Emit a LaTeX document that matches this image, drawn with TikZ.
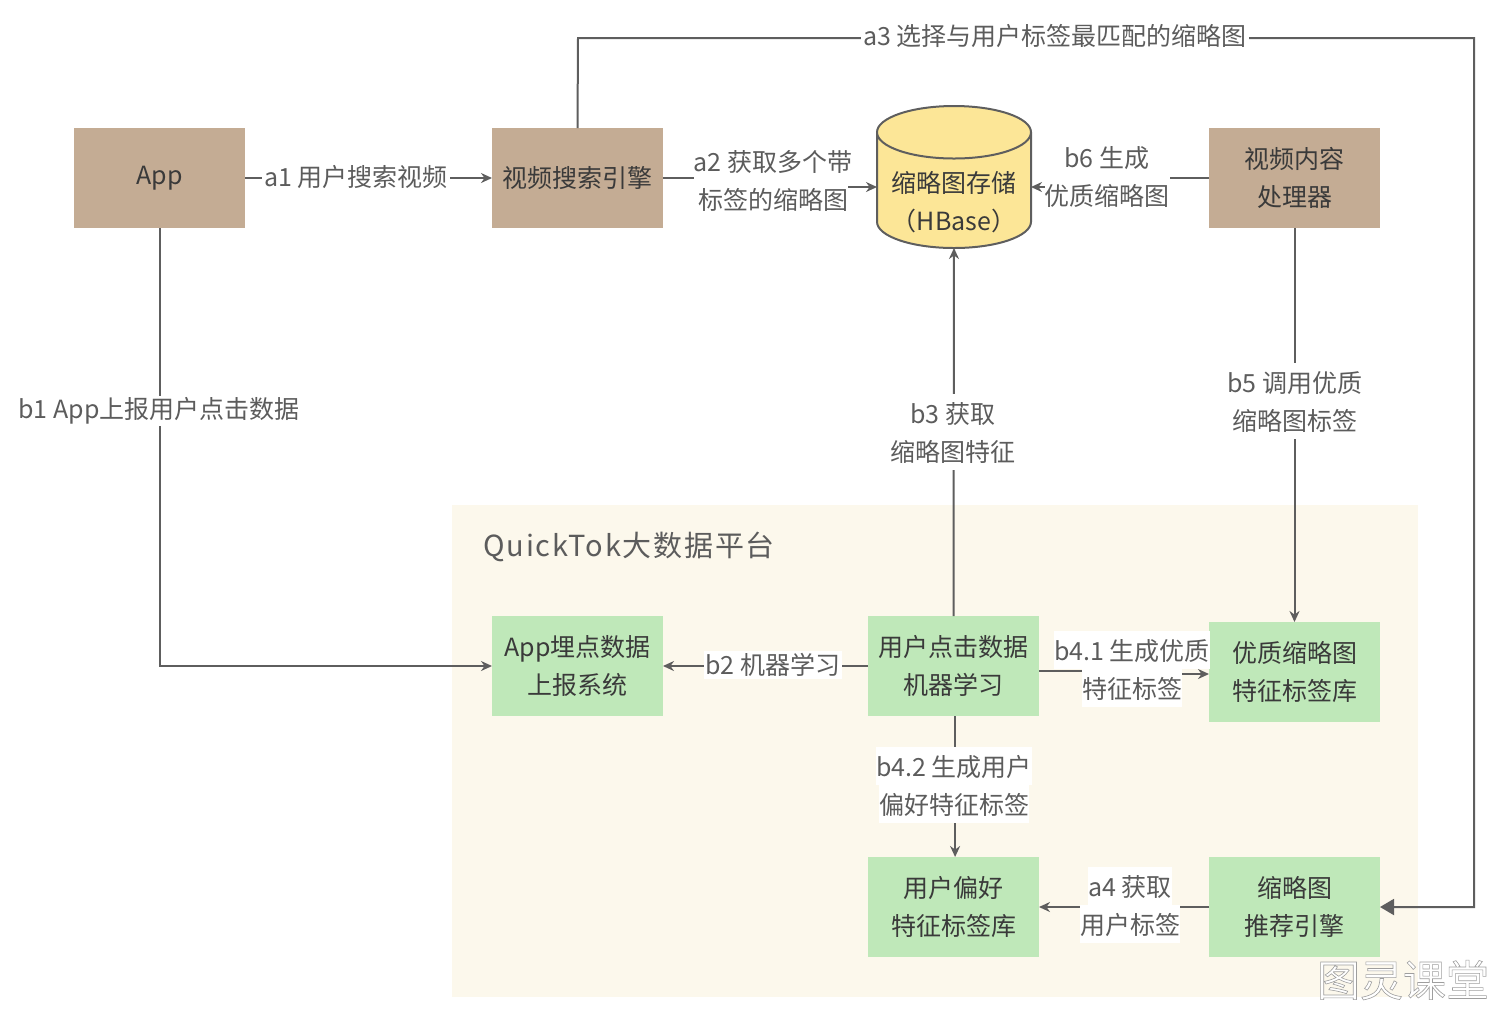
\documentclass[tikz,border=0pt]{standalone}
\usepackage{fontspec}
\setmainfont{Noto Sans CJK SC}
\usepackage{xcolor}
\usetikzlibrary{arrows.meta,positioning,shapes.geometric}
\definecolor{marrom}{HTML}{C4AC94}
\definecolor{verde}{HTML}{BFE8B9}
\definecolor{creme}{HTML}{FCF8EC}
\definecolor{amarelo}{HTML}{FCE697}
\definecolor{linha}{HTML}{5E5E5E}
\definecolor{texto}{HTML}{3A3A3A}
\definecolor{rotulo}{HTML}{5C5C5C}
\newcommand{\faixa}[1]{\setlength{\fboxsep}{0pt}\colorbox{white}{\rule[-4.5pt]{0pt}{19pt}#1}}

\begin{document}
\begin{tikzpicture}[
    x=0.5pt, y=-0.5pt,
    caixa/.style={minimum width=85.5pt, minimum height=50pt, inner sep=0pt, outer sep=0pt, align=center, text=texto, font=\fontsize{12.5}{19}\selectfont},
    apoio/.style={caixa, fill=marrom},
    dados/.style={caixa, fill=verde},
    banco/.style={draw=linha, line width=1pt, cylinder, shape border rotate=90, aspect=0.42, cylinder uses custom fill, cylinder body fill=amarelo, cylinder end fill=amarelo, minimum width=77pt, minimum height=71pt, inner sep=0pt, outer sep=0pt, align=center, font=\fontsize{12.5}{19}\selectfont},
    seta/.style={-{Stealth[length=5.5pt, width=5pt]}, line width=1pt, linha},
    setag/.style={-{Triangle[length=7pt, width=8pt]}, line width=1pt, linha},
    legenda/.style={fill=white, inner sep=1pt, align=center, text=rotulo, font=\fontsize{12.5}{19}\selectfont},
    legendas/.style={inner sep=0pt, align=center, text=rotulo, font=\fontsize{12.5}{19}\selectfont}
  ]
    \useasboundingbox (0,0) rectangle (1495,1009);
    \node[fill=creme, minimum width=483pt, minimum height=246pt, inner sep=0pt] (painel) at (935,751) {};
    \node[anchor=west, inner sep=0pt, text=rotulo, font=\fontsize{14.5}{18}\selectfont\addfontfeature{LetterSpace=6}] (titulo) at (483,547) {QuickTok大数据平台};

    \node[apoio] (app) at (159.5,178) {\raisebox{-1pt}{App}};
    \node[apoio, right=123.5pt of app] (busca) {视频搜索引擎};
    \node[banco, anchor=south] (hbase) at (954,248) {\phantom{缩略图存储}\\\phantom{（HBase）}};
    \node[inner sep=0pt, align=center, text=texto, font=\fontsize{12.5}{19}\selectfont] (hbtexto) at (954,202) {缩略图存储\\（HBase）};
    \node[apoio] (proc) at (1294.5,178) {视频内容\\处理器};
    \node[dados, below=194pt of busca] (report) {App埋点数据\\上报系统};
    \node[dados] (clique) at (953.5,666) {用户点击数据\\机器学习};
    \node[dados] (lib) at (1294.5,672) {优质缩略图\\特征标签库};
    \node[dados, below=70.5pt of clique] (pref) {用户偏好\\特征标签库};
    \node[dados, below=67.5pt of lib] (rec) {缩略图\\推荐引擎};

    \coordinate (hw) at (877,187);
    \coordinate (he) at (1031,187);
    \coordinate (a3a) at (578,38);
    \coordinate (a3b) at (1474,38);
    \coordinate (b6m) at (1107,178);
    \coordinate (a2m) at (773,178);
    \coordinate (b41m) at (1132,671);

    \draw[seta] (app) -- (busca);
    \draw[seta] (busca.east) -- (a2m) |- (hw);
    \draw[setag] (busca.north) -- (a3a) -- (a3b) |- (rec.east);
    \draw[seta] (proc.west) -- (b6m) |- (he);
    \draw[seta] (app.south) |- (report.west);
    \draw[seta] (clique.west) -- (report.east);
    \draw[seta] (clique.north) -- (hbase.south);
    \draw[seta] (proc.south) -- (lib.north);
    \draw[seta] (clique.east |- b41m) -- (b41m) |- ([yshift=-1pt]lib.west);
    \draw[seta] ([xshift=0.8pt]clique.south) -- ([xshift=0.8pt]pref.north);
    \draw[seta] (rec.west) -- (pref.east);

    \node[legenda] (la1) at (356,177) {a1 用户搜索视频};
    \node[legendas] (la2) at (773,180) {\faixa{a2 获取多个带}\\\faixa{标签的缩略图}};
    \node[legenda] (la3) at (1055,36) {a3 选择与用户标签最匹配的缩略图};
    \node[legendas] (la4) at (1130,905) {\faixa{a4 获取}\\\faixa{用户标签}};
    \node[legenda] (lb1) at (159,411) {b1 App上报用户点击数据};
    \node[legenda] (lb2) at (773,665) {b2 机器学习};
    \node[legendas] (lb3) at (953,432) {\faixa{b3 获取}\\\faixa{缩略图特征}};
    \node[legendas] (lb41) at (1132,669) {\faixa{b4.1 生成优质}\\\faixa{特征标签}};
    \node[legendas] (lb42) at (954,785) {\faixa{b4.2 生成用户}\\\faixa{偏好特征标签}};
    \node[legendas] (lb5) at (1295,401) {\faixa{b5 调用优质}\\\faixa{缩略图标签}};
    \node[legendas] (lb6) at (1107,176) {\faixa{b6 生成}\\\faixa{优质缩略图}};
    \node[inner sep=0pt, font=\fontsize{21.5}{24}\selectfont] (marca) at (1403,980) {\special{pdf:code 2 Tr 0.3 w 0.62 G 1 g}图灵课堂\special{pdf:code 0 Tr}};
  \end{tikzpicture}
\end{document}
